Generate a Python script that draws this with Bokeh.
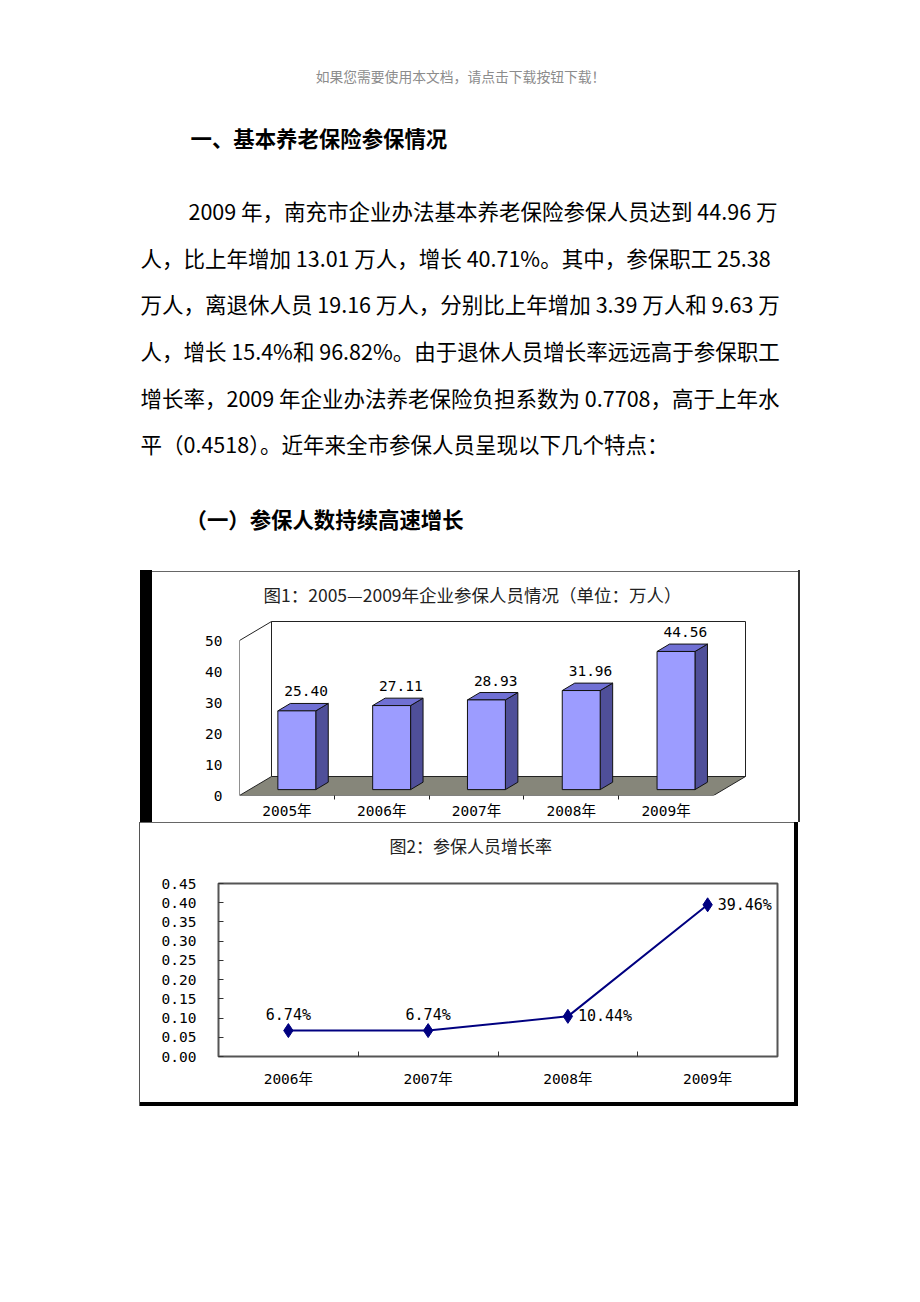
from bokeh.plotting import figure
from bokeh.layouts import column, row
from bokeh.models import Range1d, FixedTicker, Div, Spacer, NumeralTickFormatter, ColumnDataSource
from bokeh.core.properties import value
from bokeh.embed import file_html
from bokeh.resources import INLINE

# ---------------- data ----------------
years1 = ["2005年", "2006年", "2007年", "2008年", "2009年"]
members = [25.40, 27.11, 28.93, 31.96, 44.56]
member_labels = ["25.40", "27.11", "28.93", "31.96", "44.56"]
y1_ticks = [0, 10, 20, 30, 40, 50]

years2 = ["2006年", "2007年", "2008年", "2009年"]
growth = [0.0674, 0.0674, 0.1044, 0.3946]
growth_labels = ["6.74%", "6.74%", "10.44%", "39.46%"]
y2_ticks = [0.00, 0.05, 0.10, 0.15, 0.20, 0.25, 0.30, 0.35, 0.40, 0.45]

watermark = "如果您需要使用本文档，请点击下载按钮下载！"
heading1 = "一、基本养老保险参保情况"
para_lines = [
    "2009 年，南充市企业办法基本养老保险参保人员达到 44.96 万",
    "人，比上年增加 13.01 万人，增长 40.71%。其中，参保职工 25.38",
    "万人，离退休人员 19.16 万人，分别比上年增加 3.39 万人和 9.63 万",
    "人，增长 15.4%和 96.82%。由于退休人员增长率远远高于参保职工",
    "增长率，2009 年企业办法养老保险负担系数为 0.7708，高于上年水",
    "平（0.4518）。近年来全市参保人员呈现以下几个特点：",
]
heading2 = "（一）参保人数持续高速增长"
title1 = "图1：2005—2009年企业参保人员情况（单位：万人）"
title2 = "图2：参保人员增长率"

CJK = "Noto Sans CJK SC"
MONO = "DejaVu Sans Mono, Noto Sans CJK SC"


def blank_fig(w, h):
    f = figure(width=w, height=h, x_range=Range1d(0, w), y_range=Range1d(h, 0),
               x_axis_location=None, y_axis_location=None, min_border=0,
               output_backend="svg", toolbar_location=None)
    f.grid.visible = False
    f.outline_line_color = None
    return f


# ---------------- document text ----------------
doc = blank_fig(920, 570)
doc.text(x=[460], y=[75], text=[watermark], text_align="center", text_baseline="middle",
         text_font=value(CJK), text_font_size="13.8px", text_color="#8c8c8c")
doc.text(x=[190], y=[137], text=[heading1], text_baseline="middle",
         text_font=value(CJK), text_font_size="21.4px", text_font_style="bold", text_color="black")
para_x = [188, 140, 140, 140, 140, 140]
para_y = [210, 257, 303, 350, 397, 443]
doc.text(x=para_x, y=para_y, text=para_lines, text_baseline="middle",
         text_font=value(CJK), text_font_size="21.5px", text_color="black")
doc.text(x=[185], y=[518], text=[heading2], text_baseline="middle",
         text_font=value(CJK), text_font_size="21.4px", text_font_style="bold", text_color="black")

# ---------------- chart 1 : 3D bars ----------------
n1 = len(years1)
ymax1 = y1_ticks[-1]
px_per_cat = 94.8
px_per_unit = 3.1
dx = 32 / px_per_cat      # depth offset in category units
dy = 19 / px_per_unit     # depth offset in value units
f1, f2 = 0.31, 0.70       # bar front/back depth fractions
hw = 0.2                  # half bar width

fig1 = figure(width=646, height=250,
              x_range=Range1d(0, 559 / px_per_cat), y_range=Range1d(0, 183 / px_per_unit),
              min_border_left=87, min_border_right=0, min_border_top=40, min_border_bottom=27,
              output_backend="svg", toolbar_location=None)
fig1.grid.visible = False
fig1.outline_line_color = None
fig1.background_fill_color = "white"
fig1.title.text = title1
fig1.title.align = "left"
fig1.title.offset = 24
fig1.title.standoff = 12
fig1.title.text_font = CJK
fig1.title.text_font_size = "17.5px"
fig1.title.text_font_style = "normal"
fig1.title.text_color = "#222222"

# back wall
fig1.patch(x=[dx, n1 + dx, n1 + dx, dx], y=[dy, dy, ymax1 + dy, ymax1 + dy],
           fill_color="white", line_color="#222222", line_width=1)
# left wall edges
fig1.line(x=[0, 0, dx], y=[0, ymax1, ymax1 + dy], line_color="#222222", line_width=1)
# floor
fig1.patch(x=[0, n1, n1 + dx, dx], y=[0, 0, dy, dy],
           fill_color="#86867a", line_color="#222222", line_width=1)

fx, bx = f1 * dx, f2 * dx
fy, by = f1 * dy, f2 * dy
front_xs, front_ys, top_xs, top_ys, side_xs, side_ys = [], [], [], [], [], []
for i, v in enumerate(members):
    c = i + 0.5
    front_xs.append([c - hw + fx, c + hw + fx, c + hw + fx, c - hw + fx])
    front_ys.append([fy, fy, v + fy, v + fy])
    top_xs.append([c - hw + fx, c + hw + fx, c + hw + bx, c - hw + bx])
    top_ys.append([v + fy, v + fy, v + by, v + by])
    side_xs.append([c + hw + fx, c + hw + bx, c + hw + bx, c + hw + fx])
    side_ys.append([fy, by, v + by, v + fy])
fig1.patches(xs=side_xs, ys=side_ys, fill_color="#4f4f99", line_color="#111111", line_width=1)
fig1.patches(xs=top_xs, ys=top_ys, fill_color="#7070d4", line_color="#111111", line_width=1)
fig1.patches(xs=front_xs, ys=front_ys, fill_color="#9c9cff", line_color="#111111", line_width=1)

lab_src = ColumnDataSource(dict(x=[i + 0.5 + 0.6 * dx for i in range(n1)],
                                y=[v + by for v in members], t=member_labels))
fig1.text(x="x", y="y", text="t", source=lab_src, text_align="center", text_baseline="bottom",
          y_offset=-7, text_font=value(MONO), text_font_size="14.5px", text_color="black")

fig1.xaxis.ticker = FixedTicker(ticks=[i + 0.5 for i in range(n1)], minor_ticks=list(range(1, n1)))
fig1.xaxis.major_label_overrides = {i + 0.5: years1[i] for i in range(n1)}
fig1.xaxis.axis_line_color = None
fig1.xaxis.major_tick_line_color = None
fig1.xaxis.minor_tick_in = 0
fig1.xaxis.minor_tick_out = 4
fig1.xaxis.minor_tick_line_color = "#222222"
fig1.xaxis.major_label_standoff = 1
fig1.xaxis.major_label_text_font = MONO
fig1.xaxis.major_label_text_font_size = "14.5px"
fig1.xaxis.major_label_text_color = "black"

fig1.yaxis.ticker = FixedTicker(ticks=y1_ticks)
fig1.yaxis.axis_line_color = None
fig1.yaxis.major_tick_line_color = None
fig1.yaxis.minor_tick_line_color = None
fig1.yaxis.major_label_standoff = 11
fig1.yaxis.major_label_text_font = MONO
fig1.yaxis.major_label_text_font_size = "14.5px"
fig1.yaxis.major_label_text_color = "black"

# ---------------- chart 2 : growth line ----------------
n2 = len(years2)
title2_fig = blank_fig(654, 45)
title2_fig.text(x=[200], y=[22], text=[title2], text_align="left", text_baseline="middle",
                text_font=value(CJK), text_font_size="17px", text_color="#222222")

fig2 = figure(width=654, height=234, x_range=Range1d(0, n2), y_range=Range1d(0, y2_ticks[-1]),
              min_border_left=78, min_border_right=17, min_border_top=15, min_border_bottom=46,
              output_backend="svg", toolbar_location=None)
fig2.grid.visible = False
fig2.outline_line_color = "#555555"
fig2.outline_line_width = 2

gx = [i + 0.5 for i in range(n2)]
fig2.line(x=gx, y=growth, line_color="#000080", line_width=2)
fig2.scatter(x=gx, y=growth, marker="diamond", size=14, fill_color="#000080", line_color="#000080")
fig2.text(x=gx[:2], y=growth[:2], text=growth_labels[:2], text_align="center", text_baseline="bottom",
          y_offset=-7, text_font=value(MONO), text_font_size="15px", text_color="black")
fig2.text(x=gx[2:], y=growth[2:], text=growth_labels[2:], text_align="left", text_baseline="middle",
          x_offset=10, text_font=value(MONO), text_font_size="15px", text_color="black")

fig2.xaxis.ticker = FixedTicker(ticks=gx, minor_ticks=list(range(1, n2)))
fig2.xaxis.major_label_overrides = {gx[i]: years2[i] for i in range(n2)}
fig2.xaxis.axis_line_color = None
fig2.xaxis.major_tick_line_color = None
fig2.xaxis.minor_tick_in = 5
fig2.xaxis.minor_tick_out = 0
fig2.xaxis.minor_tick_line_color = "#333333"
fig2.xaxis.major_label_standoff = 8
fig2.xaxis.major_label_text_font = MONO
fig2.xaxis.major_label_text_font_size = "14.5px"
fig2.xaxis.major_label_text_color = "black"

fig2.yaxis.ticker = FixedTicker(ticks=y2_ticks)
fig2.yaxis.formatter = NumeralTickFormatter(format="0.00")
fig2.yaxis.axis_line_color = None
fig2.yaxis.major_tick_in = 5
fig2.yaxis.major_tick_out = 0
fig2.yaxis.major_tick_line_color = "#333333"
fig2.yaxis.minor_tick_line_color = None
fig2.yaxis.major_label_standoff = 22
fig2.yaxis.major_label_text_font = MONO
fig2.yaxis.major_label_text_font_size = "14.5px"
fig2.yaxis.major_label_text_color = "black"


def bar(w, h, color):
    return Div(text="", width=w, height=h, margin=(0, 0, 0, 0), styles={"background-color": color})


block1 = row(Spacer(width=140, height=252),
             bar(12, 252, "black"),
             column(Spacer(width=646, height=1), bar(646, 1, "#666666"), fig1),
             bar(2, 252, "#333333"))
block2 = row(Spacer(width=139, height=284),
             bar(1, 284, "#555555"),
             column(bar(654, 1, "#666666"), title2_fig, fig2, bar(654, 4, "black")),
             bar(4, 284, "black"))
page = column(doc, block1, block2, Spacer(width=920, height=196))

open("out.html", "w").write(file_html(page, INLINE))
